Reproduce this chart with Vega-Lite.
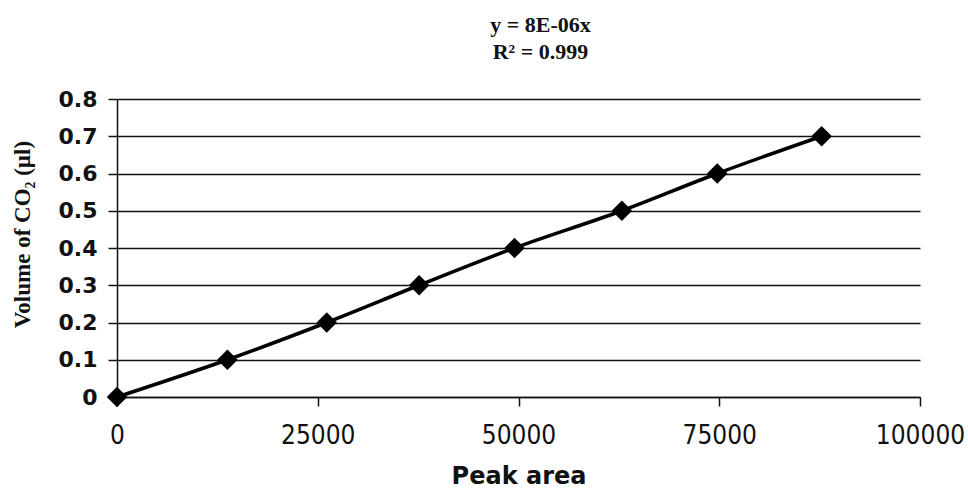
{
  "$schema": "https://vega.github.io/schema/vega-lite/v6.json",
  "width": 803,
  "height": 298,
  "autosize": {"type": "none"},
  "padding": {"left": 117, "top": 99, "right": 48, "bottom": 91},
  "background": "white",
  "title": {
    "text": ["y = 8E-06x", "R² = 0.999"],
    "font": "Liberation Serif",
    "fontWeight": "bold",
    "fontSize": 22,
    "lineHeight": 27,
    "color": "#111",
    "anchor": "middle",
    "dx": 22,
    "offset": 24
  },
  "config": {
    "view": {"stroke": null},
    "axis": {"domainColor": "#111", "domainWidth": 1.5, "tickColor": "#111", "tickWidth": 1.5, "labelColor": "#111", "titleColor": "#111"}
  },
  "data": {
    "values": [
      {"area": 0, "volume": 0},
      {"area": 13750, "volume": 0.1},
      {"area": 26125, "volume": 0.2},
      {"area": 37625, "volume": 0.3},
      {"area": 49500, "volume": 0.4},
      {"area": 62875, "volume": 0.5},
      {"area": 74750, "volume": 0.6},
      {"area": 87750, "volume": 0.7}
    ]
  },
  "encoding": {
    "x": {
      "field": "area",
      "type": "quantitative",
      "scale": {"domain": [0, 100000], "nice": false},
      "axis": {
        "values": [0, 25000, 50000, 75000, 100000],
        "format": "d",
        "grid": false,
        "tickSize": 9,
        "labelFont": "DejaVu Sans Condensed",
        "labelFontSize": 26,
        "labelPadding": 16,
        "labelFlush": false,
        "title": "Peak area",
        "titleFont": "DejaVu Sans",
        "titleFontWeight": "bold",
        "titleFontSize": 24,
        "titleBaseline": "alphabetic",
        "titleY": 86
      }
    },
    "y": {
      "field": "volume",
      "type": "quantitative",
      "scale": {"domain": [0, 0.8], "nice": false},
      "axis": {
        "values": [0, 0.1, 0.2, 0.3, 0.4, 0.5, 0.6, 0.7, 0.8],
        "format": ".1~f",
        "grid": true,
        "gridColor": "#111",
        "gridWidth": 1.5,
        "gridOpacity": 1,
        "tickSize": 9,
        "labelFont": "DejaVu Sans",
        "labelFontWeight": "bold",
        "labelFontSize": 22,
        "labelPadding": 11,
        "labelFlush": false,
        "title": "Volume of CO₂ (µl)",
        "titleFont": "Liberation Serif",
        "titleFontWeight": "bold",
        "titleFontSize": 23,
        "titleAngle": -90,
        "titleAlign": "center",
        "titleBaseline": "middle",
        "titleX": -95,
        "titleY": 135
      }
    }
  },
  "layer": [
    {
      "mark": {"type": "line", "color": "#000", "strokeWidth": 3.5, "interpolate": "monotone"}
    },
    {
      "mark": {"type": "point", "shape": "diamond", "filled": true, "color": "#000", "opacity": 1, "size": 420}
    }
  ]
}
